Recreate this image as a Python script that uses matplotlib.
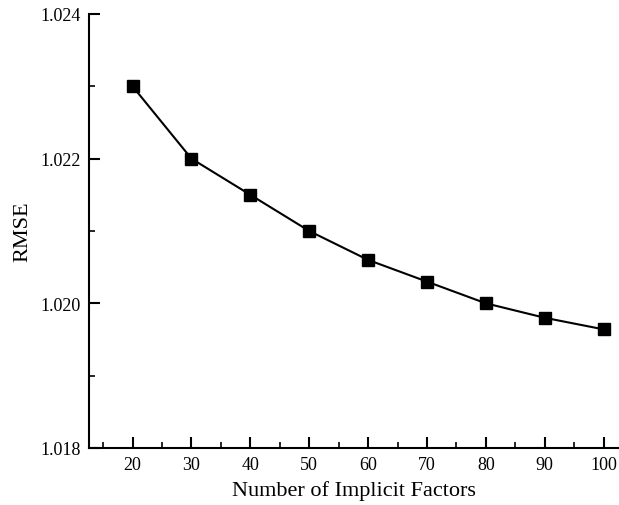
import matplotlib
matplotlib.use("Agg")
import matplotlib.pyplot as plt
from matplotlib.ticker import MultipleLocator

factors = [20, 30, 40, 50, 60, 70, 80, 90, 100]
rmse = [1.0230, 1.0220, 1.0215, 1.0210, 1.0206, 1.0203, 1.0200, 1.0198, 1.01964]

plt.rcParams["font.family"] = ["Liberation Serif", "DejaVu Serif"]

fig = plt.figure(figsize=(6.19, 5.06), dpi=100)
ax = fig.add_axes([89 / 619, 57 / 506, 530 / 619, 434 / 506])

ax.plot(factors, rmse, "k-", lw=1.5, marker="s", ms=8, clip_on=False)

ax.set_xlim(12.6, 102.6)
ax.set_ylim(1.018, 1.024)
ax.xaxis.set_major_locator(MultipleLocator(10))
ax.xaxis.set_minor_locator(MultipleLocator(5))
ax.yaxis.set_major_locator(MultipleLocator(0.002))
ax.yaxis.set_minor_locator(MultipleLocator(0.001))
ax.yaxis.set_major_formatter(lambda v, p: f"{v:.3f}")
ax.set_xticks([20, 30, 40, 50, 60, 70, 80, 90, 100])

for s in ["top", "right"]:
    ax.spines[s].set_visible(False)
for s in ["left", "bottom"]:
    ax.spines[s].set_linewidth(1.5)

ax.tick_params(which="major", direction="in", length=8, width=1.5, labelsize=13, pad=6)
ax.tick_params(which="minor", direction="in", length=4, width=1.2)

ax.set_xlabel("Number of Implicit Factors", fontsize=16, labelpad=5)
ax.set_ylabel("RMSE", fontsize=16, labelpad=6)

fig.savefig("out.png", dpi=100)
